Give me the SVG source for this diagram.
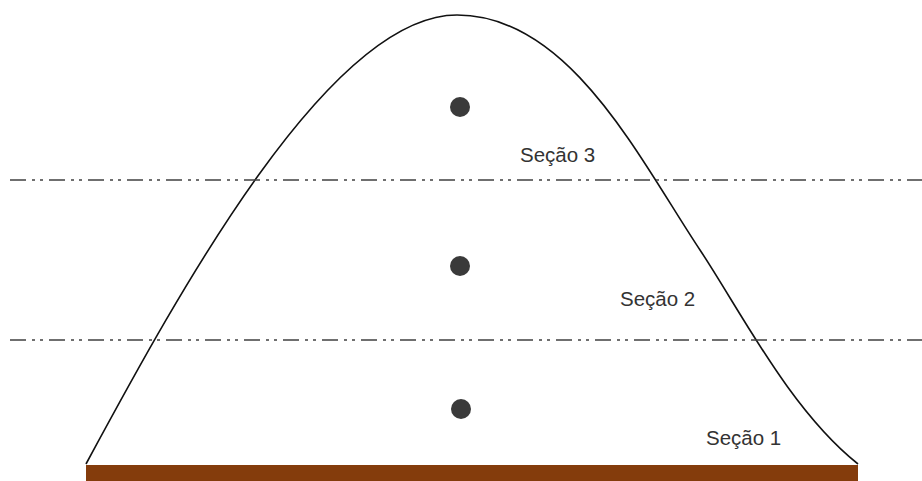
<svg xmlns="http://www.w3.org/2000/svg" width="922" height="481" viewBox="0 0 922 481">
<style>
.sec{stroke:#404040;stroke-width:1.6;stroke-dasharray:16 6 3 5 3 6;fill:none}
.dot{fill:#3a3a3a}
.lbl{font-family:"Liberation Sans",Arial,sans-serif;font-size:20.5px;fill:#333}
</style>
<rect width="922" height="481" fill="#fff"/>
<g id="ground"><rect x="86" y="465" width="772" height="16" fill="#843C0C"/></g>
<g id="pile"><path d="M86,464 C180,290 330,15 457,15 C570,15 640,160 700,250 C740,310 790,410 858,464" fill="none" stroke="#111" stroke-width="1.6"/></g>
<g id="connectors">
<line class="sec" x1="10" y1="180" x2="922" y2="180"/>
<line class="sec" x1="10" y1="340" x2="922" y2="340"/>
</g>
<g id="dot3"><circle class="dot" cx="460" cy="107" r="10"/></g>
<g id="dot2"><circle class="dot" cx="460" cy="266" r="10"/></g>
<g id="dot1"><circle class="dot" cx="461" cy="409" r="10"/></g>
<g id="secao3"><text class="lbl" x="520" y="162">Seção 3</text></g>
<g id="secao2"><text class="lbl" x="620" y="306">Seção 2</text></g>
<g id="secao1"><text class="lbl" x="706" y="445">Seção 1</text></g>
</svg>
